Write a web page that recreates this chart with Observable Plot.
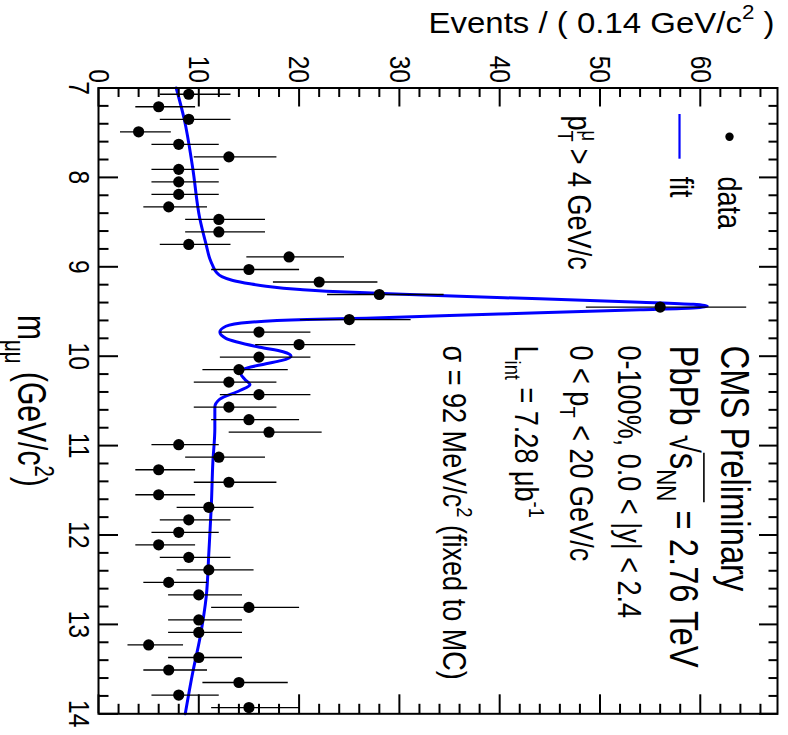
<!DOCTYPE html>
<html><head><meta charset="utf-8">
<script src="https://cdn.jsdelivr.net/npm/d3@7"></script>
<script src="https://cdn.jsdelivr.net/npm/@observablehq/plot@0.6"></script>
<style>
html,body{margin:0;padding:0;background:#fff;overflow:hidden;width:788px;height:735px;}
#chart{position:absolute;left:0;top:0;width:735px;height:788px;transform-origin:0 0;transform:translate(788px,0) rotate(90deg);}
</style></head><body><div id="chart"></div>
<script>
// ---- data ----
const massBins = [7.07,7.21,7.35,7.49,7.63,7.77,7.91,8.05,8.19,8.33,8.47,8.61,8.75,8.89,9.03,9.17,9.31,9.45,9.59,9.73,
  9.87,10.01,10.15,10.29,10.43,10.57,10.71,10.85,10.99,11.13,11.27,11.41,11.55,11.69,11.83,11.97,12.11,12.25,12.39,12.53,
  12.67,12.81,12.95,13.09,13.23,13.37,13.51,13.65,13.79,13.93];
const counts = [9,6,9,4,8,13,8,8,8,7,12,12,9,19,15,22,28,56,25,16,
  20,16,14,13,16,13,15,17,8,12,6,13,6,11,9,8,6,9,11,7,
  10,15,10,10,5,10,7,14,8,15];
const errLow = [2.94,2.38,2.94,1.91,2.77,3.55,2.77,2.77,2.77,2.58,3.41,3.41,2.94,4.31,3.82,4.66,5.26,7.46,4.97,3.95,
  4.43,3.95,3.69,3.55,3.95,3.55,3.82,4.07,2.77,3.41,2.38,3.55,2.38,3.26,2.94,2.77,2.38,2.94,3.26,2.58,
  3.11,3.82,3.11,3.11,2.16,3.11,2.58,3.69,2.77,3.82];
const errHigh = [4.11,3.58,4.11,3.16,3.94,4.69,3.94,3.94,3.94,3.77,4.55,4.55,4.11,5.43,4.95,5.76,6.36,8.53,6.07,5.08,
  5.55,5.08,4.82,4.69,5.08,4.69,4.95,5.20,3.94,4.55,3.58,4.69,3.58,4.41,4.11,3.94,3.58,4.11,4.41,3.77,
  4.26,4.95,4.26,4.26,3.38,4.26,3.77,4.82,3.94,4.95];
const fitMass = [7.00,7.35,7.90,8.46,8.76,8.91,8.99,9.06,9.11,9.153,9.19,9.217,9.254,9.276,9.29,9.313,9.33,9.358,9.396,9.42,
  9.44,9.46,9.48,9.515,9.545,9.575,9.59,9.62,9.665,9.73,9.80,9.90,9.95,10.00,10.05,10.085,10.15,10.20,10.26,10.32,
  10.384,10.48,10.57,10.81,11.19,11.67,12.20,12.68,13.16,13.535,14.00];
const fitEvents = [7.75,8.55,9.4,10.1,10.75,11.1,11.4,11.75,12.3,13.4,15.1,16.7,20.1,23.4,26.7,31.7,36,44,54,59.3,
  60.7,59.3,54,44,35,26.7,20.8,15.1,12.7,12.1,12.7,16.1,18.4,19.2,18.2,16.7,14.4,14.2,14.6,15.1,
  14.1,12.1,11.6,11.6,11.4,11.25,11.0,10.75,10.1,9.4,8.65];
const massMajorTicks = [7,8,9,10,11,12,13,14];
const massMinorTicks = d3.range(7, 14.001, 0.2).filter(v => Math.abs(v - Math.round(v)) > 1e-6);
const eventsMajorTicks = [0,10,20,30,40,50,60];
const eventsMinorTicks = d3.range(0, 67, 2).filter(v => v % 10 !== 0);

// ---- chart (drawn unrotated, then the whole SVG is turned 90° clockwise) ----
const W = 735, H = 788, mL = 87.5, mR = 21.7, mT = 10, mB = 99;
const innerW = W - mL - mR, innerH = H - mT - mB;
const FONT = "'Liberation Sans', Arial, Helvetica, sans-serif";
const data = massBins.map((m, i) => ({m, n: counts[i], lo: counts[i] - errLow[i], hi: counts[i] + errHigh[i]}));
const fit = fitMass.map((m, i) => ({m, y: fitEvents[i]}));
const tk = {stroke: "black", strokeWidth: 2};
const ann = (txt, X, Y, size) => Plot.text([txt], {text: d => d, frameAnchor: "top-left", dx: X - mL, dy: Y - mT,
  textAnchor: "start", lineAnchor: "bottom", fontSize: size, fill: "black"});

const plot = Plot.plot({
  width: W, height: H, marginLeft: mL, marginRight: mR, marginTop: mT, marginBottom: mB,
  x: {domain: [7, 14]}, y: {domain: [0, 67.7]},
  style: {fontFamily: FONT, background: "white", color: "black"},
  marks: [
    Plot.line(fit, {x: "m", y: "y", stroke: "#0000ff", strokeWidth: 3, curve: "monotone-x"}),
    Plot.ruleX(data, {x: "m", y1: "lo", y2: "hi", stroke: "black", strokeWidth: 1.3}),
    Plot.dot(data, {x: "m", y: "n", r: 5.6, fill: "black"}),
    Plot.ruleX(massMajorTicks, {x: d => d, insetTop: innerH - 19, ...tk}),
    Plot.ruleX(massMajorTicks, {x: d => d, insetBottom: innerH - 19, ...tk}),
    Plot.ruleX(massMinorTicks, {x: d => d, insetTop: innerH - 9.5, ...tk}),
    Plot.ruleX(massMinorTicks, {x: d => d, insetBottom: innerH - 9.5, ...tk}),
    Plot.ruleY(eventsMajorTicks, {y: d => d, insetRight: innerW - 19, ...tk}),
    Plot.ruleY(eventsMajorTicks, {y: d => d, insetLeft: innerW - 19, ...tk}),
    Plot.ruleY(eventsMinorTicks, {y: d => d, insetRight: innerW - 9.5, ...tk}),
    Plot.ruleY(eventsMinorTicks, {y: d => d, insetLeft: innerW - 9.5, ...tk}),
    Plot.frame({stroke: "black", strokeWidth: 2}),
    Plot.axisX({ticks: massMajorTicks, tickSize: 0, tickPadding: 8, fontSize: 30, label: null, tickFormat: d => String(d)}),
    Plot.axisY({ticks: eventsMajorTicks, tickSize: 0, tickPadding: 5, fontSize: 30, label: null, tickFormat: d => String(d)}),
    Plot.text(["Events / ( 0.14 GeV/c^{2} )"], {text: d => d, frameAnchor: "top-left", dx: 32 - mL, dy: 3,
      rotate: -90, textAnchor: "end", lineAnchor: "bottom", fontSize: 30, fill: "black"}),
    Plot.text(["m_{μμ} (GeV/c^{2})"], {text: d => d, frameAnchor: "bottom", dy: 81,
      textAnchor: "middle", lineAnchor: "bottom", fontSize: 40, fill: "black"}),
    // legend
    Plot.dot([0], {frameAnchor: "top-left", dx: 48.8, dy: 48, r: 4.2, fill: "black"}),
    Plot.ruleY([57.93], {y: d => d, insetLeft: 26.5, insetRight: innerW - 71.2, stroke: "#0000ff", strokeWidth: 2.2}),
    ann("data", 176, 70, 33),
    ann("fit", 176, 118, 33),
    // annotations
    ann("CMS Preliminary", 345, 67, 40),
    ann("PbPb √{s_{NN}} = 2.76 TeV", 345, 118, 40),
    ann("0-100%, 0.0 < |y| < 2.4", 345, 170, 33),
    ann("0 < p_{T} < 20 GeV/c", 345, 218, 33),
    ann("L_{int} = 7.28 μb^{-1}", 345, 273, 33),
    ann("σ = 92 MeV/c^{2} (fixed to MC)", 345, 345, 33),
    ann("p_{T}^{μ} > 4 GeV/c", 115, 220, 33)
  ]
});
document.getElementById("chart").appendChild(plot);

// ---- rich text (sub/superscripts, radical) and narrow-font scaling ----
const NS = "http://www.w3.org/2000/svg";
function parse(str) {
  const segs = []; let i = 0, buf = "", over = false;
  const push = () => { if (buf) segs.push({t: buf, type: "n", over}); buf = ""; };
  while (i < str.length) {
    const c = str[i];
    if ((c === "_" || c === "^") && str[i + 1] === "{") {
      push(); const j = str.indexOf("}", i + 2);
      segs.push({t: str.slice(i + 2, j), type: c === "_" ? "sub" : "sup", over}); i = j + 1;
    } else if (c === "√" && str[i + 1] === "{") {
      push(); segs.push({t: "√", type: "n", over: false, rad: true}); over = true; i += 2;
    } else if (c === "}" && over) { push(); over = false; i++; }
    else { buf += c; i++; }
  }
  push(); return segs;
}
function richify(el, str) {
  const F = parseFloat(getComputedStyle(el).fontSize);
  el.setAttributeNS("http://www.w3.org/XML/1998/namespace", "xml:space", "preserve");
  while (el.firstChild) el.removeChild(el.firstChild);
  const segs = parse(str); let cur = 0; let prev = null; const made = [];
  segs.forEach(s => {
    const ts = document.createElementNS(NS, "tspan");
    ts.textContent = s.t;
    let target = 0;
    if (s.type === "sub") { target = 0.3 * F; ts.setAttribute("font-size", 0.68 * F); }
    if (s.type === "sup") { target = -0.45 * F; ts.setAttribute("font-size", 0.68 * F); }
    const dy = target - cur; if (dy) ts.setAttribute("dy", dy); cur = target;
    if (s.over) ts.setAttribute("data-over", "1");
    if (s.rad) ts.setAttribute("data-rad", "1");
    el.appendChild(ts); made.push({ts, s, prev}); prev = s;
  });
  made.forEach((o, k) => {
    if (o.s.type === "sup" && o.prev && o.prev.type === "sub") {
      o.ts.setAttribute("dx", -made[k - 1].ts.getComputedTextLength());
    }
  });
}
const texts = Array.from(plot.querySelectorAll("text"));
texts.forEach(el => { const s = el.textContent; if (/[_^]\{|√\{/.test(s)) richify(el, s); });
texts.forEach(el => {
  const anchor = getComputedStyle(el).textAnchor;
  const b = el.getBBox();
  const ax = anchor === "end" ? b.x + b.width : anchor === "middle" ? b.x + b.width / 2 : b.x;
  const s = el.textContent;
  const k = s.startsWith("Events") ? 346 / b.width : s.startsWith("mμμ") ? 172 / b.width : 0.82;
  const t = el.getAttribute("transform") || "";
  el.setAttribute("transform", `${t} translate(${ax},0) scale(${k},1) translate(${-ax},0)`);
});
texts.forEach(el => {
  const overs = el.querySelectorAll("tspan[data-over]");
  const rad = el.querySelector("tspan[data-rad]");
  if (!overs.length || !rad) return;
  const rb = rad.getBBox();
  let x2 = -Infinity; overs.forEach(o => { const bb = o.getBBox(); x2 = Math.max(x2, bb.x + bb.width); });
  const F = parseFloat(getComputedStyle(el).fontSize);
  const base = el.getStartPositionOfChar(0).y;
  const line = document.createElementNS(NS, "line");
  const yb = base - 0.86 * F;
  line.setAttribute("x1", rb.x + rb.width - 1); line.setAttribute("x2", x2 + 1);
  line.setAttribute("y1", yb); line.setAttribute("y2", yb);
  line.setAttribute("stroke", "black"); line.setAttribute("stroke-width", 1.6);
  line.setAttribute("transform", el.getAttribute("transform") || "");
  el.parentNode.appendChild(line);
});
</script></body></html>
